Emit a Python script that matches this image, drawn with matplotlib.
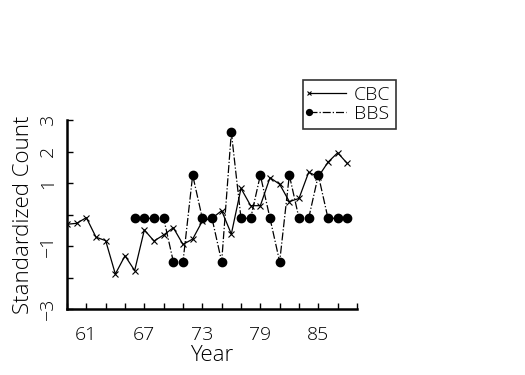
import numpy as np
import matplotlib
matplotlib.use("Agg")
import matplotlib.pyplot as plt
from matplotlib.legend_handler import HandlerLine2D
from matplotlib.lines import Line2D

cbc_years = list(range(59, 89))
cbc_values = [-0.31, -0.28, -0.10, -0.72, -0.83, -1.89, -1.31, -1.78, -0.49, -0.84,
              -0.65, -0.42, -0.95, -0.78, -0.21, -0.12, 0.12, -0.62, 0.83, 0.28,
              0.28, 1.17, 0.96, 0.41, 0.51, 1.34, 1.20, 1.66, 1.96, 1.62]

bbs_years = list(range(66, 89))
bbs_values = [-0.12, -0.12, -0.12, -0.12, -1.50, -1.50, 1.25, -0.12, -0.12, -1.50,
              2.61, -0.12, -0.12, 1.25, -0.12, -1.50, 1.25, -0.12, -0.12, 1.25,
              -0.12, -0.12, -0.12]

ytick_vals = [-3, -2, -1, 0, 1, 2, 3]
ytick_labels = ["\u22123", "", "\u22121", "", "1", "2", "3"]
xtick_major = [61, 67, 73, 79, 85]
xtick_minor = list(range(59, 90, 2))

plt.rcParams['font.family'] = ['Open Sans', 'DejaVu Sans']
FW = 300

fig = plt.figure(figsize=(5.25, 3.75), dpi=100)
ax = fig.add_axes([67/525, 1-309/375, (357-67)/525, (309-120)/375])

ax.plot(cbc_years, cbc_values, color='black', lw=0.9, marker='x', ms=3.8, mew=0.8,
        label='CBC')
ax.plot(bbs_years, bbs_values, color='black', lw=0.9, ls='-.', marker='o', ms=6,
        label='BBS')

ax.set_xlim(59, 89)
ax.set_ylim(-3, 3)
for s in ['top', 'right']:
    ax.spines[s].set_visible(False)
for s in ['left', 'bottom']:
    ax.spines[s].set_linewidth(1.8)

ax.set_yticks(ytick_vals)
ax.set_yticklabels(ytick_labels, rotation=90, va='center', fontsize=14, fontweight=FW)
ax.set_xticks(xtick_minor, minor=True)
ax.set_xticks(xtick_major)
ax.set_xticklabels([str(v) for v in xtick_major], fontsize=14, fontweight=FW)
ax.tick_params(axis='y', direction='in', length=4, width=1, pad=7)
ax.tick_params(axis='x', which='both', direction='in', length=4, width=1, pad=12)

ax.set_xlabel('Year', fontsize=16, fontweight=FW, labelpad=1)
ax.set_ylabel('Standardized Count', fontsize=16, fontweight=FW, labelpad=4)


class MarkerFirst(HandlerLine2D):
    def create_artists(self, legend, orig_handle, xdescent, ydescent, width, height,
                       fontsize, trans):
        arts = super().create_artists(legend, orig_handle, xdescent, ydescent, width,
                                      height, fontsize, trans)
        for a in arts:
            a.set_markevery([0])
        return arts


leg = fig.legend(loc='upper left', bbox_to_anchor=(303/525, 1-80/375),
                 frameon=True, fancybox=False, edgecolor='black', markerscale=0.7,
                 handler_map={Line2D: MarkerFirst(numpoints=2, marker_pad=0)},
                 handlelength=1.9, borderpad=0.3, labelspacing=0.05, handletextpad=0.4,
                 borderaxespad=0, prop={'weight': FW, 'size': 14})
leg.get_frame().set_linewidth(1.2)

fig.savefig('out.png', dpi=100)
